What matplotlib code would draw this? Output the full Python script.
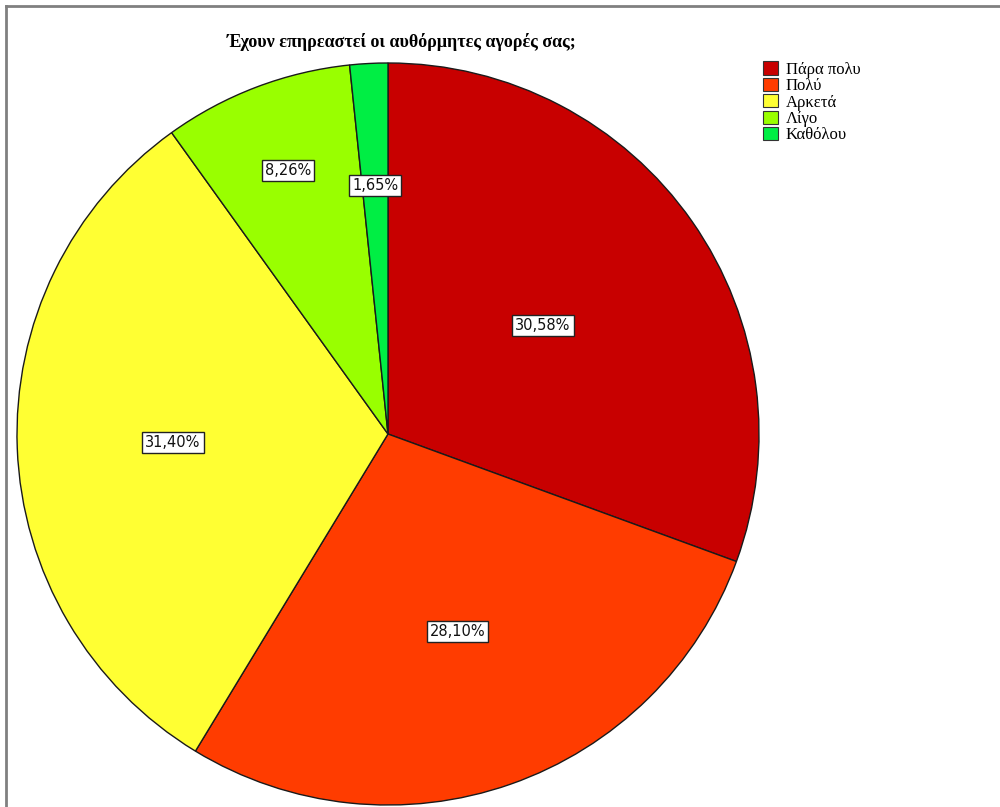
import numpy as np
import matplotlib.pyplot as plt
from matplotlib.lines import Line2D
from matplotlib.patches import Patch

# Survey answers and their shares (%)
categories = ['Πάρα πολυ', 'Πολύ', 'Αρκετά', 'Λίγο', 'Καθόλου']
shares = [30.58, 28.10, 31.40, 8.26, 1.65]
colors = ['#C80000', '#FF3C00', '#FFFF33', '#99FF00', '#00EE44']
# radial position of each percentage box, as fraction of the radius
label_radius = [0.51, 0.565, 0.58, 0.76, 0.67]

W, H = 1000, 807
fig = plt.figure(figsize=(W / 100, H / 100), dpi=100)

# pie axes: centre ~ (388, 434) px, radius ~ 371 px
r_px = 371
cx, cy = 388, 434
ax = fig.add_axes([(cx - r_px) / W, (H - cy - r_px) / H, 2 * r_px / W, 2 * r_px / H])
wedges, _ = ax.pie(shares, colors=colors, startangle=90, counterclock=False,
                   radius=1, wedgeprops=dict(edgecolor='#1a1a1a', linewidth=1.0))
ax.set_xlim(-1, 1)
ax.set_ylim(-1, 1)
ax.set_aspect('equal')
ax.axis('off')

for w, v, rf in zip(wedges, shares, label_radius):
    ang = np.deg2rad((w.theta1 + w.theta2) / 2)
    ax.text(rf * np.cos(ang), rf * np.sin(ang), f'{v:.2f}%'.replace('.', ','),
            ha='center', va='center', fontsize=10.5, family='DejaVu Sans',
            color='#111111',
            bbox=dict(boxstyle='square,pad=0.2', facecolor='white',
                      edgecolor='#222222', linewidth=1.0))

fig.text(402 / W, 1 - 42 / H, 'Έχουν επηρεαστεί οι αυθόρμητες αγορές σας;',
         ha='center', va='center', fontsize=13, fontweight='bold',
         family='Liberation Serif')

handles = [Patch(facecolor=c, edgecolor='#333333', linewidth=0.8) for c in colors]
fig.legend(handles, categories, loc='upper left',
           bbox_to_anchor=(760 / W, 1 - 58 / H), frameon=False,
           prop=dict(family='Liberation Serif', size=12),
           handlelength=0.85, handleheight=0.85, handletextpad=0.5,
           labelspacing=0.0, borderpad=0.2, borderaxespad=0)

# grey frame along the top and left edges
fig.add_artist(Line2D([6 / W, 1], [1 - 6 / H, 1 - 6 / H], color='#808080', lw=2,
                      transform=fig.transFigure))
fig.add_artist(Line2D([6 / W, 6 / W], [0, 1 - 6 / H], color='#808080', lw=2,
                      transform=fig.transFigure))

fig.savefig('out.png', dpi=100)
